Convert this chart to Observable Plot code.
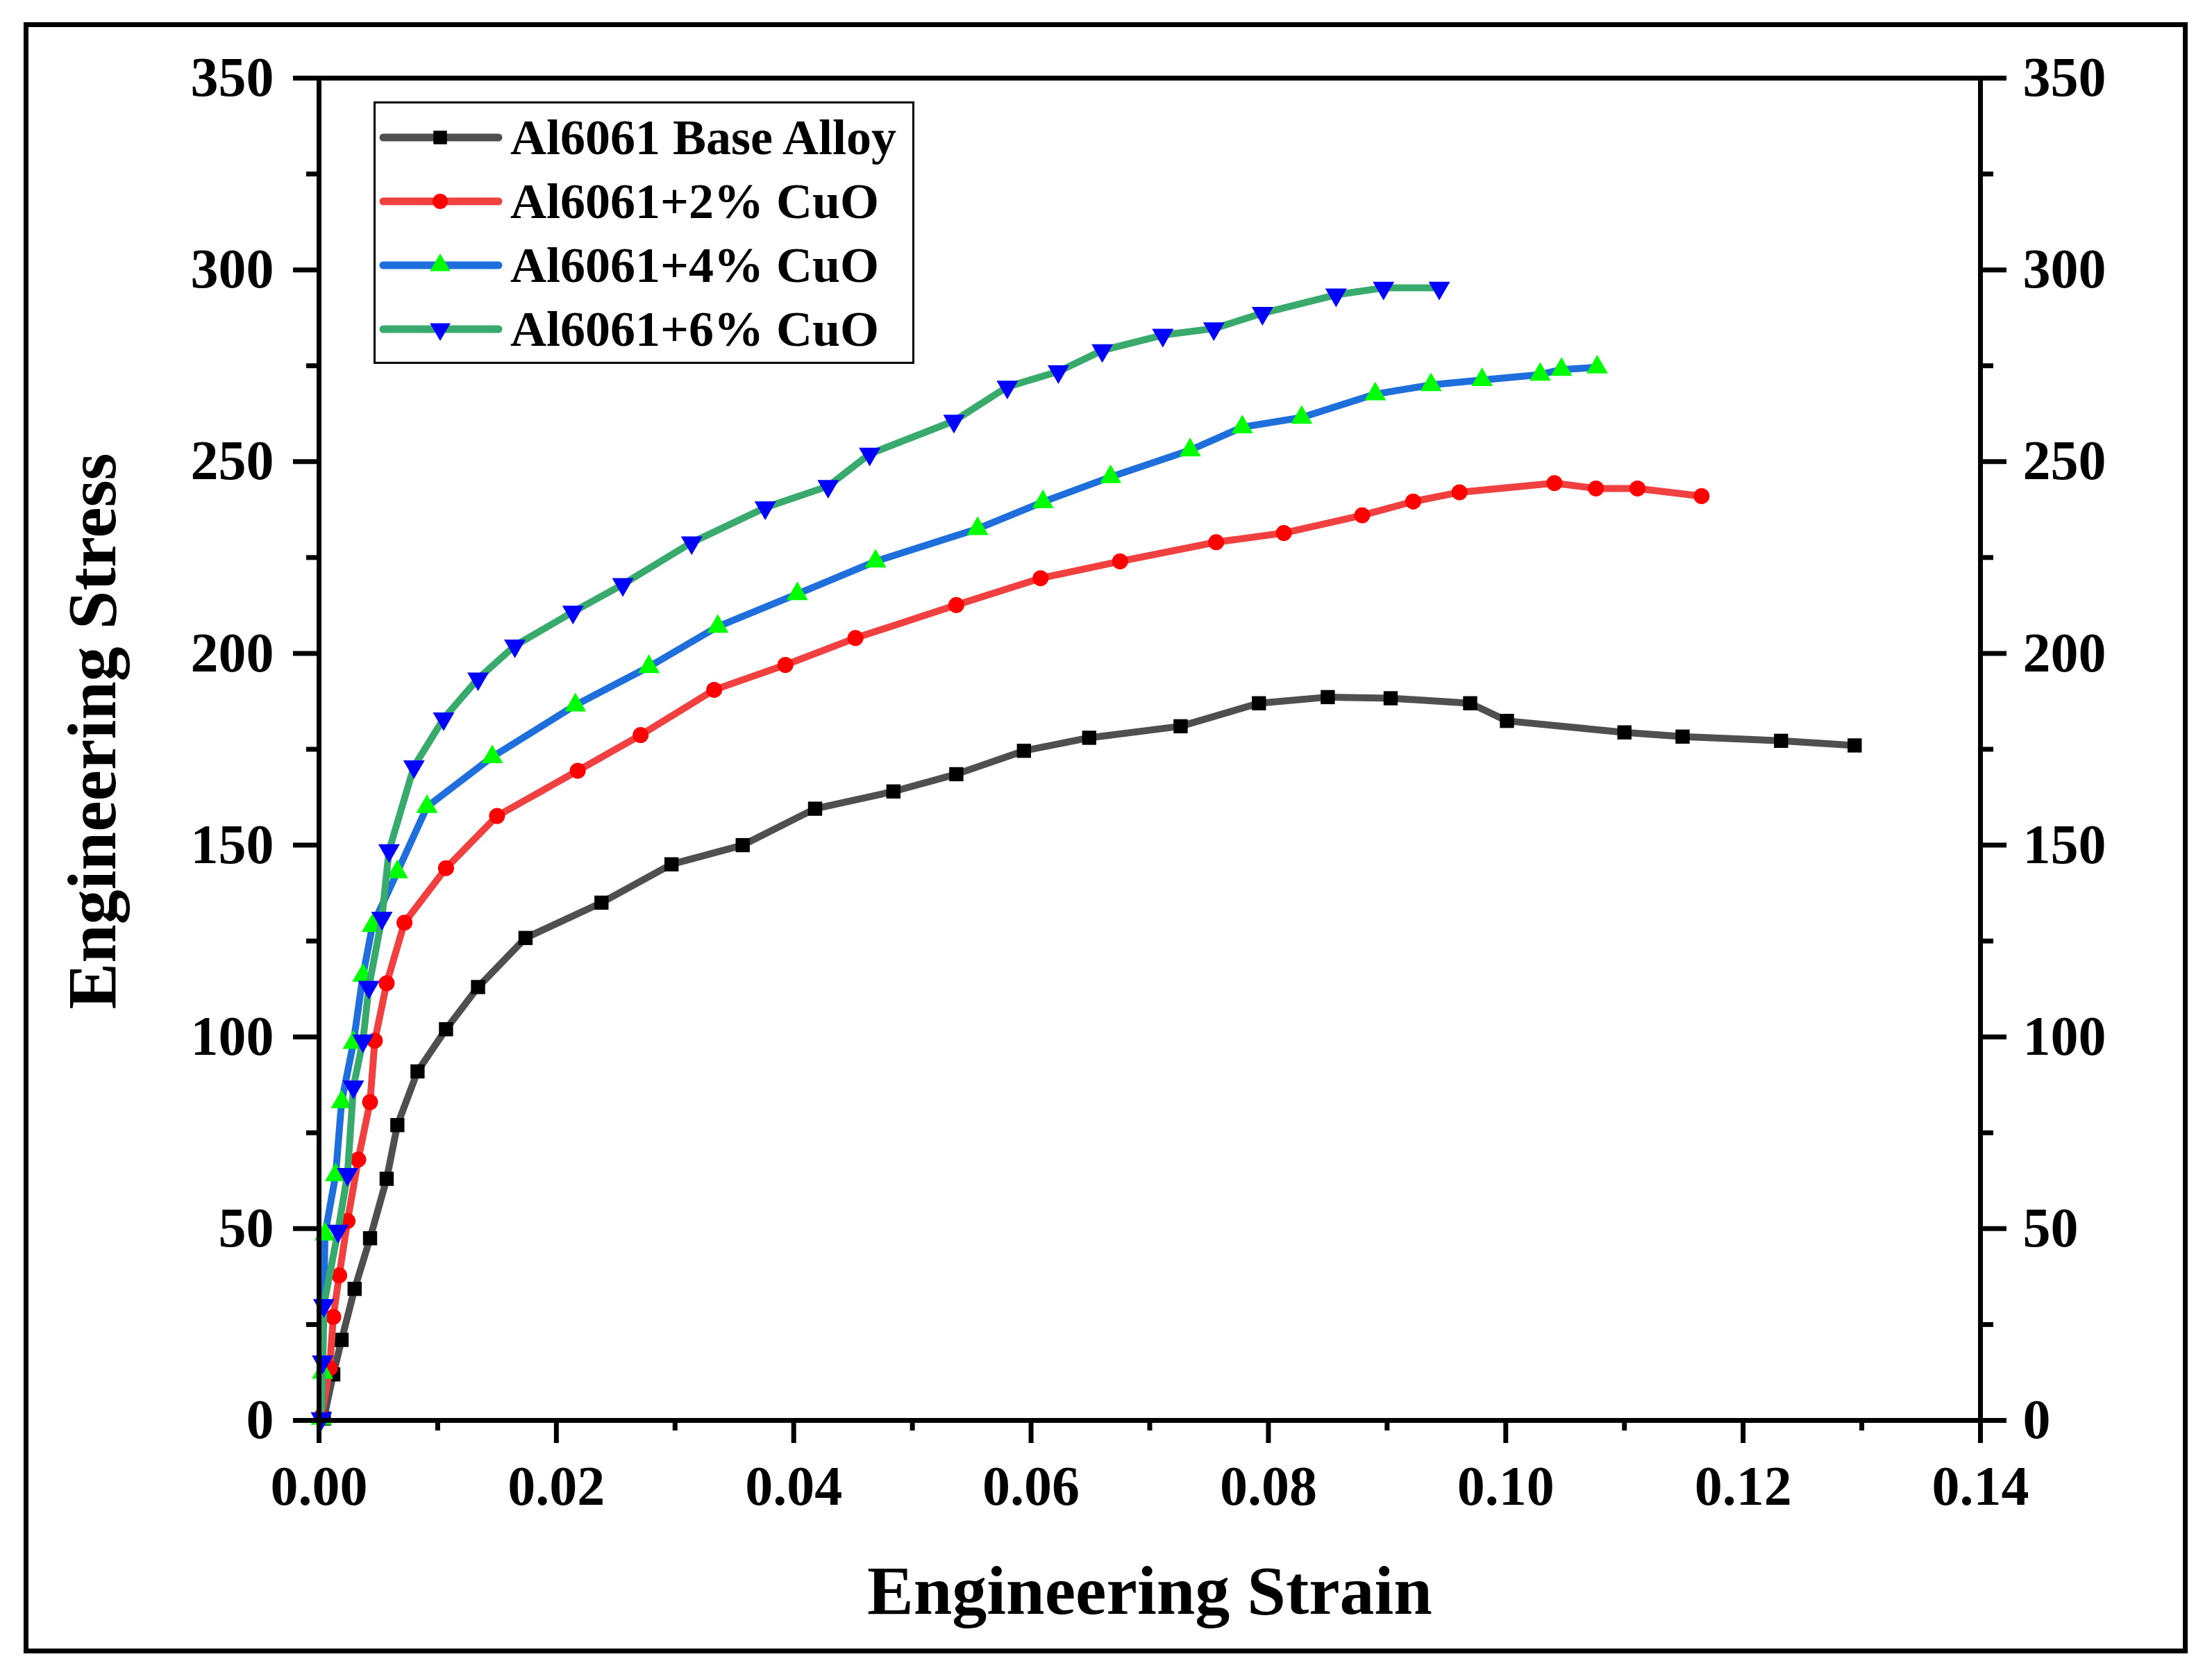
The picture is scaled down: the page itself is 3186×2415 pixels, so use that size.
<!DOCTYPE html>
<html>
<head>
<meta charset="utf-8">
<script src="https://cdn.jsdelivr.net/npm/d3@7"></script>
<script src="https://cdn.jsdelivr.net/npm/@observablehq/plot@0.6"></script>
<style>
  body { margin: 0; background: white; }
  #wrap { position: relative; width: 3186px; height: 2415px; font-family: "Liberation Serif", serif; }
  #border { position: absolute; left: 34px; top: 32px; width: 3117px; height: 2349px; border: 7px solid black; box-sizing: border-box; }
  #legend { position: absolute; left: 538px; top: 146px; }
</style>
</head>
<body>
<div id="wrap">
  <div id="chart"></div>
  <div id="border"></div>
  <div id="legend"></div>
</div>
<script>
// series names, styles
const names = ["Al6061 Base Alloy", "Al6061+2% CuO", "Al6061+4% CuO", "Al6061+6% CuO"];
const lineColors = ["#4f4f4f", "#f04040", "#1e6fdc", "#38ab6c"];
const markColors = ["#000000", "#ff0000", "#00ff00", "#0000ff"];
const symbols = ["square", "circle", "triangle", "triangle"];
const rotations = [0, 0, 0, 180];

const baseStrain = [0.0004, 0.0012, 0.0019, 0.0030, 0.0043, 0.0057, 0.0066, 0.0083, 0.0107, 0.0134, 0.0174, 0.0238, 0.0297, 0.0357, 0.0418, 0.0484, 0.0537, 0.0594, 0.0649, 0.0726, 0.0792, 0.0850, 0.0903, 0.0970, 0.1001, 0.1100, 0.1149, 0.1232, 0.1294];
const baseStress = [0.5, 12, 21, 34.3, 47.5, 63, 77, 91, 102, 113, 125.8, 135, 145, 150, 159.5, 164, 168.5, 174.6, 178, 181, 187, 188.6, 188.3, 187, 182.4, 179.4, 178.3, 177.2, 176];

const cu2Strain = [0.0002, 0.0009, 0.0012, 0.0017, 0.0024, 0.0033, 0.0043, 0.0047, 0.0057, 0.0072, 0.0107, 0.0150, 0.0218, 0.0271, 0.0333, 0.0393, 0.0452, 0.0537, 0.0608, 0.0675, 0.0756, 0.0813, 0.0879, 0.0922, 0.0961, 0.1041, 0.1076, 0.1111, 0.1165];
const cu2Stress = [1, 13.6, 27, 37.8, 52, 68, 83, 99, 114, 129.8, 144, 157.6, 169.4, 178.7, 190.5, 197, 204, 212.6, 219.6, 224, 229, 231.4, 236, 239.6, 242, 244.4, 243, 243, 241];

const cu4Strain = [0.0002, 0.0003, 0.0005, 0.0014, 0.0019, 0.0029, 0.0037, 0.0045, 0.0066, 0.0091, 0.0146, 0.0216, 0.0278, 0.0336, 0.0403, 0.0469, 0.0555, 0.0610, 0.0667, 0.0734, 0.0778, 0.0828, 0.0890, 0.0937, 0.0980, 0.1029, 0.1047, 0.1077];
const cu4Stress = [0.5, 12.5, 48.5, 64, 83, 98.5, 116, 129, 143, 160, 173, 186.5, 196.5, 207, 215.5, 224, 232.5, 239.5, 246, 253, 259, 261.5, 267.6, 270, 271.3, 272.7, 274, 274.6];

const cu6Strain = [0.0002, 0.0003, 0.0004, 0.0016, 0.0024, 0.0029, 0.0037, 0.0042, 0.0053, 0.0059, 0.0080, 0.0105, 0.0134, 0.0165, 0.0214, 0.0256, 0.0314, 0.0376, 0.0429, 0.0464, 0.0535, 0.0580, 0.0623, 0.0660, 0.0711, 0.0754, 0.0795, 0.0857, 0.0897, 0.0944];
const cu6Stress = [0.5, 15.3, 30, 49.4, 64.2, 87, 99, 113, 131, 148.6, 170.5, 183, 193.4, 202, 210.8, 218, 228.9, 238, 243.6, 252, 260.6, 269.5, 273.5, 279, 283, 284.7, 288.7, 293.5, 295.3, 295.3];

const xTicks = [0, 0.02, 0.04, 0.06, 0.08, 0.10, 0.12, 0.14];
const xMinor = [0.01, 0.03, 0.05, 0.07, 0.09, 0.11, 0.13];
const yTicks = [0, 50, 100, 150, 200, 250, 300, 350];
const yMinor = [25, 75, 125, 175, 225, 275, 325];

const strains = [baseStrain, cu2Strain, cu4Strain, cu6Strain];
const stresses = [baseStress, cu2Stress, cu4Stress, cu6Stress];
const series = names.map((name, i) => strains[i].map((s, j) => ({strain: s, stress: stresses[i][j], name})));

const marks = [];
series.forEach((rows, i) => {
  marks.push(Plot.line(rows, {x: "strain", y: "stress", stroke: lineColors[i], strokeWidth: 10, strokeLinejoin: "round"}));
  marks.push(Plot.dot(rows, {x: "strain", y: "stress", symbol: symbols[i], fill: markColors[i], r: 11.5, rotate: rotations[i]}));
});

const chart = Plot.plot({
  width: 3186,
  height: 2415,
  marginLeft: 459,
  marginRight: 334,
  marginTop: 112,
  marginBottom: 370,
  x: {domain: [0, 0.14], label: null},
  y: {domain: [0, 350], label: null},
  style: {fontFamily: "Liberation Serif", fontWeight: "bold", fontSize: "80px", color: "black", background: "white"},
  marks: [
    ...marks,
    Plot.frame({stroke: "black", strokeWidth: 7}),
    Plot.axisX({ticks: xTicks, tickSize: 33, tickPadding: 32, strokeWidth: 7, fontSize: 80, fontWeight: "bold", tickFormat: d3.format(".2f"), label: null}),
    Plot.axisX({ticks: xMinor, tickSize: 15, strokeWidth: 7, text: null, label: null}),
    Plot.axisY({ticks: yTicks, tickSize: 37, tickPadding: 28, strokeWidth: 7, fontSize: 80, fontWeight: "bold", label: null}),
    Plot.axisY({ticks: yMinor, tickSize: 18, strokeWidth: 7, text: null, label: null}),
    Plot.axisY({anchor: "right", ticks: yTicks, tickSize: 37, tickPadding: 24, strokeWidth: 7, fontSize: 80, fontWeight: "bold", label: null}),
    Plot.axisY({anchor: "right", ticks: yMinor, tickSize: 18, strokeWidth: 7, text: null, label: null}),
    Plot.text(["Engineering Strain"], {text: d => d, frameAnchor: "bottom", dy: 246, lineAnchor: "middle", fontSize: 100, fontWeight: "bold"}),
    Plot.text(["Engineering Stress"], {text: d => d, frameAnchor: "left", textAnchor: "middle", rotate: -90, dx: -326, dy: -26, lineAnchor: "middle", fontSize: 100, fontWeight: "bold"})
  ]
});
d3.select("#chart").append(() => chart);

// legend box
const lg = d3.select("#legend").append("svg").attr("width", 779).attr("height", 378);
lg.append("rect").attr("x", 1.5).attr("y", 1.5).attr("width", 776).attr("height", 375)
  .attr("fill", "white").attr("stroke", "black").attr("stroke-width", 3);
names.forEach((name, i) => {
  const y = 52 + i * 92;
  lg.append("line").attr("x1", 14).attr("x2", 180).attr("y1", y).attr("y2", y)
    .attr("stroke", lineColors[i]).attr("stroke-width", 11).attr("stroke-linecap", "round");
  const type = symbols[i] === "square" ? d3.symbolSquare : symbols[i] === "circle" ? d3.symbolCircle : d3.symbolTriangle;
  lg.append("path").attr("d", d3.symbol(type, Math.PI * 121)())
    .attr("transform", `translate(96,${y}) rotate(${rotations[i]})`).attr("fill", markColors[i]);
  lg.append("text").attr("x", 197).attr("y", y).attr("dy", "0.34em")
    .attr("font-family", "Liberation Serif").attr("font-weight", "bold").attr("font-size", 72)
    .text(name);
});
</script>
</body>
</html>
